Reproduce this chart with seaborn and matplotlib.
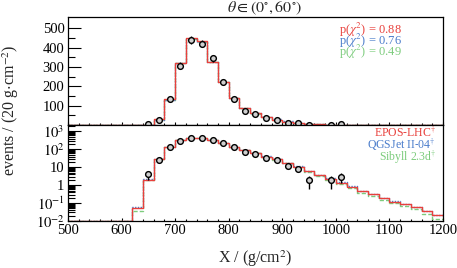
import numpy as np
import pandas as pd
import matplotlib
matplotlib.use("Agg")
import matplotlib.pyplot as plt
import matplotlib.ticker as mticker
import seaborn as sns

# ---- data ----
bin_edges = list(range(500, 1201, 20))  # 35 bins of 20 g/cm^2
data_x = [650, 670, 690, 710, 730, 750, 770, 790, 810, 830, 850, 870, 890,
          910, 930, 950, 990, 1010]
data_n = [4, 27, 133, 306, 440, 421, 345, 222, 135, 74, 56, 35, 25,
          12, 8, 2, 2, 3]

epos = [0, 0, 0, 0, 0, 0, 0.05, 2.0, 29, 132, 320, 452, 432, 326, 220, 138,
        88, 60, 40, 28, 18, 11, 6.2, 3.6, 2.3, 1.4, 0.82, 0.47, 0.31, 0.19,
        0.12, 0.085, 0.057, 0.036, 0.022]
qgsjet = [0, 0, 0, 0, 0, 0, 0.06, 2.1, 28, 130, 318, 446, 430, 328, 222, 140,
          89, 61, 41, 29, 18.5, 11.5, 6.5, 3.8, 2.4, 1.45, 0.86, 0.5, 0.33,
          0.2, 0.13, 0.09, 0.06, 0.038, 0.023]
sibyll = [0, 0, 0, 0, 0, 0, 0.036, 1.9, 28, 131, 322, 444, 428, 327, 221, 139,
          88, 59, 39, 27, 17, 10.5, 5.8, 3.2, 2.0, 1.2, 0.68, 0.38, 0.25,
          0.15, 0.095, 0.066, 0.044, 0.026, 0.0125]

model_names = ["EPOS-LHC", "QGSJet II-04", "Sibyll 2.3d"]
model_colors = ["#e8403c", "#4a7ccb", "#7dcc7d"]
model_styles = ["-", (0, (1, 1)), (0, (3, 1.5))]
pvalues = [0.88, 0.76, 0.49]

# ---- style ----
sns.set_style("ticks")
plt.rcParams["font.family"] = ["Liberation Serif", "DejaVu Serif"]
plt.rcParams["mathtext.fontset"] = "stix"
plt.rcParams["axes.linewidth"] = 0.9

fig = plt.figure(figsize=(4.57, 2.68), dpi=100)
W, H = 457.0, 268.0
axL, axR = 68, 443
ax1 = fig.add_axes([axL / W, (H - 125) / H, (axR - axL) / W, 108 / H])
ax2 = fig.add_axes([axL / W, (H - 221) / H, (axR - axL) / W, 96 / H])

ylow_log = 0.01
ylim_log = (ylow_log, 2300)

def step_frame(vals, floor=0.0):
    v = np.maximum(np.array(vals, dtype=float), floor)
    return pd.DataFrame({"x": bin_edges, "y": np.append(v, v[-1])})

for ax, floor in [(ax1, 0.0), (ax2, ylow_log)]:
    for vals, name, col, ls in zip([epos, qgsjet, sibyll][::-1],
                                   model_names[::-1], model_colors[::-1],
                                   model_styles[::-1]):
        df = step_frame(vals, floor)
        sns.lineplot(data=df, x="x", y="y", ax=ax, color=col, lw=1.0,
                     linestyle=ls, drawstyle="steps-post", estimator=None,
                     sort=False)

    dn = np.array(data_n, dtype=float)
    err = np.sqrt(dn)
    ax.errorbar(data_x, dn, yerr=err, fmt="none", ecolor="black",
                elinewidth=1.0, capsize=0, zorder=4)
    sns.scatterplot(x=data_x, y=dn, ax=ax, marker="o", s=17,
                    facecolor="#cfcfcf", edgecolor="black", linewidth=1.0,
                    zorder=5)
    ax.set_xlim(500, 1200)
    ax.set_xlabel("")
    ax.set_ylabel("")

# top panel
ax1.set_ylim(0, 558)
ax1.yaxis.set_major_locator(mticker.FixedLocator([100, 200, 300, 400, 500]))
ax1.yaxis.set_minor_locator(mticker.FixedLocator([50, 150, 250, 350, 450]))
ax1.tick_params(axis="x", labelbottom=False)

# bottom panel
ax2.set_yscale("log")
ax2.set_ylim(*ylim_log)
ax2.yaxis.set_major_locator(mticker.FixedLocator([1e-2, 1e-1, 1, 10, 100, 1000]))
ax2.yaxis.set_major_formatter(mticker.FixedFormatter(
    [r"$10^{-2}$", r"$10^{-1}$", "1", "10", r"$10^{2}$", r"$10^{3}$"]))
ax2.yaxis.set_minor_locator(mticker.LogLocator(base=10, subs=np.arange(2, 10), numticks=20))
ax2.yaxis.set_minor_formatter(mticker.NullFormatter())
ax2.set_xticks([500, 600, 700, 800, 900, 1000, 1100, 1200])

for ax in (ax1, ax2):
    ax.xaxis.set_minor_locator(mticker.MultipleLocator(20))
    ax.tick_params(axis="both", which="both", direction="in", top=False, right=False,
                   labelsize=10.5, colors="black", width=0.8, pad=2.5)
    ax.tick_params(axis="y", which="major", length=9.5)
    ax.tick_params(axis="y", which="minor", length=5)
    ax.tick_params(axis="x", which="major", length=2.5)
    ax.tick_params(axis="x", which="minor", length=1.8)
    for s in ax.spines.values():
        s.set_color("black")
    ax.set_facecolor("white")

# texts
fig.text(265 / W, 1 - 8 / H, r"$\theta \in (0^{\circ}, 60^{\circ})$", ha="center",
         va="center", fontsize=11.5)
for i, (p, col) in enumerate(zip(pvalues, model_colors)):
    fig.text(402 / W, 1 - (30 + 11 * i) / H,
             r"p($\chi^{2}$) = %.2f" % p, color=col, ha="right",
             va="center", fontsize=9)
for i, (name, col) in enumerate(zip(model_names, model_colors)):
    fig.text(436 / W, 1 - (133 + 12 * i) / H, name + r"$^{\dagger}$",
             color=col, ha="right", va="center", fontsize=8.5)

fig.text(11 / W, 1 - 110 / H, r"events / (20 g$\cdot$cm$^{-2}$)", rotation=90,
         ha="center", va="center", fontsize=11.5)
fig.text(255 / W, 1 - 259 / H, r"X / (g/cm$^{2}$)", ha="center", va="center",
         fontsize=11.5)

fig.savefig("out.png", dpi=100)
